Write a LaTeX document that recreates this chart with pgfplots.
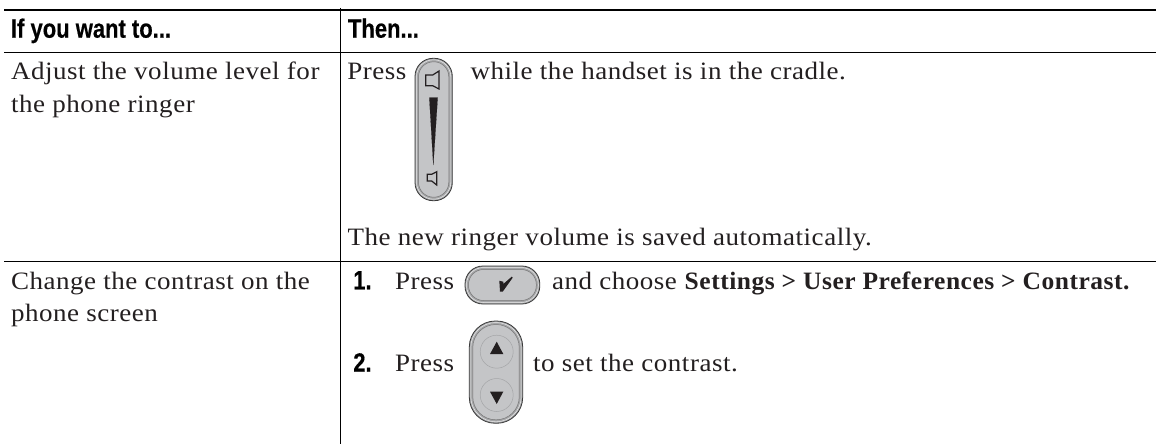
\documentclass[border=0pt]{standalone}
\usepackage{pgfplots}
\pgfplotsset{compat=1.18}
\usepackage{fontspec}
\setmainfont{Liberation Serif}[LetterSpace=2.1,FakeStretch=1.08,BoldFont={Liberation Serif Bold},BoldFeatures={FakeStretch=1.02}]
\newfontfamily\hdr[FakeStretch=0.83,BoldFont={Liberation Sans Bold},BoldFeatures={FakeBold=0.4}]{Liberation Sans}
\definecolor{ol}{HTML}{3A3A3A}
\definecolor{ring}{HTML}{A4A5A7}
\definecolor{body}{HTML}{C4C5C7}
\definecolor{ink}{HTML}{231F20}
\tikzset{
  txt/.style={anchor=base west, inner sep=0pt, outer sep=0pt, font=\fontsize{25}{30}\selectfont, text=ink},
  hd/.style={anchor=base west, inner sep=0pt, outer sep=0pt, font=\hdr\bfseries\fontsize{26.5}{30}\selectfont, text=black},
}
\begin{document}
\begin{tikzpicture}
\begin{axis}[
  scale only axis, width=1156pt, height=444pt,
  xmin=0, xmax=1156, ymin=0, ymax=444, y dir=reverse,
  hide axis, clip mode=individual,
  every axis plot/.append style={no markers},
]
\addplot[draw=none, forget plot] coordinates {(0,0) (1156,0) (1156,444) (0,444)};
% table rules
\addplot[black, line width=2pt] coordinates {(4,10) (1156,10)};
\addplot[black, line width=1pt] coordinates {(4,53) (1156,53)};
\addplot[black, line width=1pt] coordinates {(4,261.7) (1156,261.7)};
\addplot[black, line width=1pt] coordinates {(340.3,8) (340.3,444)};
% icon 1: volume rocker
\addplot[draw=ol, fill=ring, line width=0.8pt, rounded corners=18pt] coordinates {(415,58.3) (452.3,58.3) (452.3,200.7) (415,200.7)} -- cycle;
\addplot[draw=white!80!ring, fill=ring, line width=0.5pt, rounded corners=17pt] coordinates {(416.5,59.8) (450.8,59.8) (450.8,199.2) (416.5,199.2)} -- cycle;
\addplot[draw=ol!70, fill=body, line width=0.5pt, rounded corners=15pt] coordinates {(418.5,61.8) (448.8,61.8) (448.8,197.2) (418.5,197.2)} -- cycle;
\addplot[draw=ink, fill=body, line width=1.2pt] coordinates {(425.7,75) (432.7,75) (439,71) (439,89) (432.7,85.7) (425.7,85.7)} -- cycle;
\addplot[draw=ink, fill=ink, line width=0.1pt] coordinates {(429.3,97.7) (437.7,97.7) (433.3,165)} -- cycle;
\addplot[draw=ink, fill=body, line width=1.2pt] coordinates {(427.3,174.3) (431.7,174.3) (436.7,171.7) (436.7,185) (431.7,181) (427.3,181)} -- cycle;
% icon 2: select button
\addplot[draw=ol, fill=ring, line width=0.8pt, rounded corners=18pt] coordinates {(465,266) (539.8,266) (539.8,304) (465,304)} -- cycle;
\addplot[draw=white!80!ring, fill=ring, line width=0.5pt, rounded corners=17pt] coordinates {(466.5,267.5) (538.3,267.5) (538.3,302.5) (466.5,302.5)} -- cycle;
\addplot[draw=ol!70, fill=body, line width=0.5pt, rounded corners=15pt] coordinates {(468.5,269.5) (536.3,269.5) (536.3,300.5) (468.5,300.5)} -- cycle;
\addplot[draw=none, fill=ink] coordinates {(499.3,280.7) (503.3,281.7) (503.3,284) (511.7,276.7) (512.7,277.7) (502.7,291.7) (500,291.7)} -- cycle;
% icon 3: up-down button
\addplot[draw=ol, fill=ring, line width=0.8pt, rounded corners=26pt] coordinates {(469.3,321) (522.7,321) (522.7,423.3) (469.3,423.3)} -- cycle;
\addplot[draw=white!80!ring, fill=ring, line width=0.5pt, rounded corners=25pt] coordinates {(470.8,322.5) (521.2,322.5) (521.2,421.8) (470.8,421.8)} -- cycle;
\addplot[draw=ol!70, fill=body, line width=0.5pt, rounded corners=23pt] coordinates {(472.8,324.5) (519.2,324.5) (519.2,419.8) (472.8,419.8)} -- cycle;
\addplot[only marks, mark=*, mark size=16.5pt, mark options={draw=ring, fill=body, line width=0.5pt}] coordinates {(496.7,351.7) (496.7,395)};
\addplot[draw=none, fill=ink] coordinates {(496.7,341.7) (503.3,354) (490,354)} -- cycle;
\addplot[draw=none, fill=ink] coordinates {(490,391.7) (503.3,391.7) (496.7,404)} -- cycle;
% text
\node[hd] at (axis cs:11,37.7) {If you want to...};
\node[hd] at (axis cs:348,37.7) {Then...};
\node[txt] at (axis cs:11,80) {Adjust the volume level for};
\node[txt] at (axis cs:11,112) {the phone ringer};
\node[txt] at (axis cs:347.3,80) {Press};
\node[txt] at (axis cs:470.6,80) {while the handset is in the cradle.};
\node[txt] at (axis cs:347.5,245.7) {The new ringer volume is saved automatically.};
\node[txt] at (axis cs:11,289.3) {Change the contrast on the};
\node[txt] at (axis cs:11,321.5) {phone screen};
\node[hd] at (axis cs:353.3,289.3) {1.};
\node[txt] at (axis cs:395,289.3) {Press};
\node[txt] at (axis cs:552,289.3) {and choose \textbf{Settings > User Preferences > Contrast.}};
\node[hd] at (axis cs:353.3,371.7) {2.};
\node[txt] at (axis cs:395,371.7) {Press};
\node[txt] at (axis cs:533,371.7) {to set the contrast.};
\end{axis}
\end{tikzpicture}
\end{document}
